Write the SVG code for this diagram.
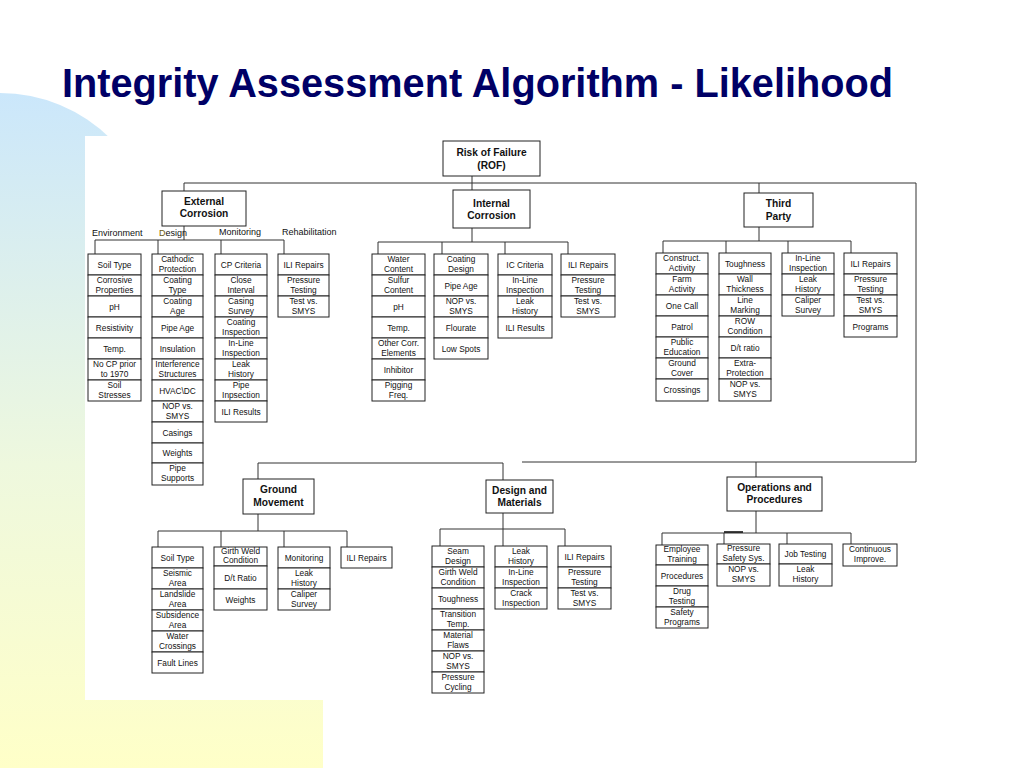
<svg xmlns="http://www.w3.org/2000/svg" width="1024" height="768" viewBox="0 0 1024 768">
<defs>
<linearGradient id="bg" gradientUnits="userSpaceOnUse" x1="0" y1="93" x2="0" y2="768">
<stop offset="0" stop-color="#cbe7fb"/>
<stop offset="0.55" stop-color="#eef8de"/>
<stop offset="1" stop-color="#ffffc8"/>
</linearGradient>
<style>
.c{fill:#fff;stroke:#222;stroke-width:1}
.hb{fill:#fff;stroke:#222;stroke-width:1}
.t{font-family:"Liberation Sans",Arial,sans-serif;font-size:8.3px;text-anchor:middle;fill:#111}
.h{font-family:"Liberation Sans",Arial,sans-serif;font-size:10.2px;font-weight:bold;text-anchor:middle;fill:#111}
.lb{font-family:"Liberation Sans",Arial,sans-serif;font-size:9px;fill:#111}
.ln{stroke:#333;stroke-width:1;fill:none}
</style>
</defs>
<rect width="1024" height="768" fill="#fff"/>
<g id="background">
<circle cx="0" cy="250" r="157" fill="url(#bg)"/>
<rect x="0" y="250" width="85" height="518" fill="url(#bg)"/>
<rect x="0" y="700" width="323" height="68" fill="url(#bg)"/>
<rect x="85" y="136" width="915" height="564" fill="#fff"/>
</g>
<text x="62" y="97" font-family="'Liberation Sans Narrow','Liberation Sans',Arial,sans-serif" font-size="40" font-weight="bold" fill="#000066" textLength="831" lengthAdjust="spacingAndGlyphs">Integrity Assessment Algorithm - Likelihood</text>

<g id="connectors">
<path class="ln" d="M472 176V190 M184 191V183H916V462H522 M759 183V193"/>
<path class="ln" d="M184 226V240 M95 254V240H284V254 M158 240V254 M221 240V254"/>
<path class="ln" d="M472 228V242 M378 254V242H568V254 M442 242V254 M505 242V254"/>
<path class="ln" d="M759 227V241 M663 253V241H851V253 M726 241V253 M788 241V253"/>
<path class="ln" d="M258 479V463H503V480"/>
<path class="ln" d="M258 514V531 M158 547V531H347V547 M221 531V547 M284 531V547"/>
<path class="ln" d="M503 513V529 M440 546V529H565V546 M503 529V546"/>
<path class="ln" d="M756 462V477 M756 511V533 M662 545V533H851V544 M724 533V544 M787 533V544"/>
<path d="M724 532H743" stroke="#111" stroke-width="1.6"/>
</g>

<g id="rof"><rect class="hb" x="443" y="141" width="97" height="35"/><text class="h" x="491.5" y="155.5">Risk of Failure</text><text class="h" x="491.5" y="168.5">(ROF)</text></g>

<g id="external-corrosion"><rect class="hb" x="162" y="191" width="84" height="35"/><text class="h" x="204" y="204.5">External</text><text class="h" x="204" y="216.5">Corrosion</text></g>
<g id="ec-labels">
<text class="lb" x="92" y="235.5">Environment</text>
<text class="lb" x="159" y="235.5"><tspan fill="#6b5a10">D</tspan>esign</text>
<text class="lb" x="219" y="235">Monitoring</text>
<text class="lb" x="282" y="235">Rehabilitation</text>
</g>
<g id="ec-env">
<rect class="c" x="88" y="254" width="53" height="21"/><text class="t" x="114.5" y="267.5">Soil Type</text>
<rect class="c" x="88" y="275" width="53" height="21"/><text class="t" x="114.5" y="282.5">Corrosive</text><text class="t" x="114.5" y="292.5">Properties</text>
<rect class="c" x="88" y="296" width="53" height="21"/><text class="t" x="114.5" y="309.5">pH</text>
<rect class="c" x="88" y="317" width="53" height="21"/><text class="t" x="114.5" y="330.5">Resistivity</text>
<rect class="c" x="88" y="338" width="53" height="21"/><text class="t" x="114.5" y="351.5">Temp.</text>
<rect class="c" x="88" y="359" width="53" height="21"/><text class="t" x="114.5" y="366.5">No CP prior</text><text class="t" x="114.5" y="376.5">to 1970</text>
<rect class="c" x="88" y="380" width="53" height="21"/><text class="t" x="114.5" y="387.5">Soil</text><text class="t" x="114.5" y="397.5">Stresses</text>
</g>
<g id="ec-design">
<rect class="c" x="152" y="254" width="51" height="21"/><text class="t" x="177.5" y="261.5">Cathodic</text><text class="t" x="177.5" y="271.5">Protection</text>
<rect class="c" x="152" y="275" width="51" height="21"/><text class="t" x="177.5" y="282.5">Coating</text><text class="t" x="177.5" y="292.5">Type</text>
<rect class="c" x="152" y="296" width="51" height="21"/><text class="t" x="177.5" y="303.5">Coating</text><text class="t" x="177.5" y="313.5">Age</text>
<rect class="c" x="152" y="317" width="51" height="21"/><text class="t" x="177.5" y="330.5">Pipe Age</text>
<rect class="c" x="152" y="338" width="51" height="21"/><text class="t" x="177.5" y="351.5">Insulation</text>
<rect class="c" x="152" y="359" width="51" height="21"/><text class="t" x="177.5" y="366.5">Interference</text><text class="t" x="177.5" y="376.5">Structures</text>
<rect class="c" x="152" y="380" width="51" height="21"/><text class="t" x="177.5" y="393.5">HVAC\DC</text>
<rect class="c" x="152" y="401" width="51" height="21"/><text class="t" x="177.5" y="408.5">NOP vs.</text><text class="t" x="177.5" y="418.5">SMYS</text>
<rect class="c" x="152" y="422" width="51" height="21"/><text class="t" x="177.5" y="435.5">Casings</text>
<rect class="c" x="152" y="443" width="51" height="20"/><text class="t" x="177.5" y="456">Weights</text>
<rect class="c" x="152" y="463" width="51" height="22"/><text class="t" x="177.5" y="471">Pipe</text><text class="t" x="177.5" y="481">Supports</text>
</g>
<g id="ec-monitoring">
<rect class="c" x="215" y="254" width="52" height="21"/><text class="t" x="241" y="267.5">CP Criteria</text>
<rect class="c" x="215" y="275" width="52" height="21"/><text class="t" x="241" y="282.5">Close</text><text class="t" x="241" y="292.5">Interval</text>
<rect class="c" x="215" y="296" width="52" height="21"/><text class="t" x="241" y="303.5">Casing</text><text class="t" x="241" y="313.5">Survey</text>
<rect class="c" x="215" y="317" width="52" height="21"/><text class="t" x="241" y="324.5">Coating</text><text class="t" x="241" y="334.5">Inspection</text>
<rect class="c" x="215" y="338" width="52" height="21"/><text class="t" x="241" y="345.5">In-Line</text><text class="t" x="241" y="355.5">Inspection</text>
<rect class="c" x="215" y="359" width="52" height="21"/><text class="t" x="241" y="366.5">Leak</text><text class="t" x="241" y="376.5">History</text>
<rect class="c" x="215" y="380" width="52" height="21"/><text class="t" x="241" y="387.5">Pipe</text><text class="t" x="241" y="397.5">Inpsection</text>
<rect class="c" x="215" y="401" width="52" height="21"/><text class="t" x="241" y="414.5">ILI Results</text>
</g>
<g id="ec-rehab">
<rect class="c" x="278" y="254" width="51" height="21"/><text class="t" x="303.5" y="267.5">ILI Repairs</text>
<rect class="c" x="278" y="275" width="51" height="21"/><text class="t" x="303.5" y="282.5">Pressure</text><text class="t" x="303.5" y="292.5">Testing</text>
<rect class="c" x="278" y="296" width="51" height="21"/><text class="t" x="303.5" y="303.5">Test vs.</text><text class="t" x="303.5" y="313.5">SMYS</text>
</g>

<g id="internal-corrosion"><rect class="hb" x="453" y="190" width="77" height="38"/><text class="h" x="491.5" y="206.5">Internal</text><text class="h" x="491.5" y="219">Corrosion</text></g>
<g id="ic-col1">
<rect class="c" x="372" y="254" width="53" height="21"/><text class="t" x="398.5" y="261.5">Water</text><text class="t" x="398.5" y="271.5">Content</text>
<rect class="c" x="372" y="275" width="53" height="21"/><text class="t" x="398.5" y="282.5">Sulfur</text><text class="t" x="398.5" y="292.5">Content</text>
<rect class="c" x="372" y="296" width="53" height="21"/><text class="t" x="398.5" y="309.5">pH</text>
<rect class="c" x="372" y="317" width="53" height="21"/><text class="t" x="398.5" y="330.5">Temp.</text>
<rect class="c" x="372" y="338" width="53" height="21"/><text class="t" x="398.5" y="345.5">Other Corr.</text><text class="t" x="398.5" y="355.5">Elements</text>
<rect class="c" x="372" y="359" width="53" height="21"/><text class="t" x="398.5" y="372.5">Inhibitor</text>
<rect class="c" x="372" y="380" width="53" height="21"/><text class="t" x="398.5" y="387.5">Pigging</text><text class="t" x="398.5" y="397.5">Freq.</text>
</g>
<g id="ic-col2">
<rect class="c" x="434" y="254" width="54" height="21"/><text class="t" x="461" y="261.5">Coating</text><text class="t" x="461" y="271.5">Design</text>
<rect class="c" x="434" y="275" width="54" height="21"/><text class="t" x="461" y="288.5">Pipe Age</text>
<rect class="c" x="434" y="296" width="54" height="21"/><text class="t" x="461" y="303.5">NOP vs.</text><text class="t" x="461" y="313.5">SMYS</text>
<rect class="c" x="434" y="317" width="54" height="21"/><text class="t" x="461" y="330.5">Flourate</text>
<rect class="c" x="434" y="338" width="54" height="21"/><text class="t" x="461" y="351.5">Low Spots</text>
</g>
<g id="ic-col3">
<rect class="c" x="498" y="254" width="54" height="21"/><text class="t" x="525" y="267.5">IC Criteria</text>
<rect class="c" x="498" y="275" width="54" height="21"/><text class="t" x="525" y="282.5">In-Line</text><text class="t" x="525" y="292.5">Inspection</text>
<rect class="c" x="498" y="296" width="54" height="21"/><text class="t" x="525" y="303.5">Leak</text><text class="t" x="525" y="313.5">History</text>
<rect class="c" x="498" y="317" width="54" height="21"/><text class="t" x="525" y="330.5">ILI Results</text>
</g>
<g id="ic-col4">
<rect class="c" x="561" y="254" width="54" height="21"/><text class="t" x="588" y="267.5">ILI Repairs</text>
<rect class="c" x="561" y="275" width="54" height="21"/><text class="t" x="588" y="282.5">Pressure</text><text class="t" x="588" y="292.5">Testing</text>
<rect class="c" x="561" y="296" width="54" height="21"/><text class="t" x="588" y="303.5">Test vs.</text><text class="t" x="588" y="313.5">SMYS</text>
</g>

<g id="third-party"><rect class="hb" x="744" y="193" width="69" height="34"/><text class="h" x="778.5" y="207">Third</text><text class="h" x="778.5" y="219.5">Party</text></g>
<g id="tp-col1">
<rect class="c" x="656" y="253" width="52" height="21"/><text class="t" x="682" y="260.5">Construct.</text><text class="t" x="682" y="270.5">Activity</text>
<rect class="c" x="656" y="274" width="52" height="21"/><text class="t" x="682" y="281.5">Farm</text><text class="t" x="682" y="291.5">Activity</text>
<rect class="c" x="656" y="295" width="52" height="21"/><text class="t" x="682" y="308.5">One Call</text>
<rect class="c" x="656" y="316" width="52" height="21"/><text class="t" x="682" y="329.5">Patrol</text>
<rect class="c" x="656" y="337" width="52" height="21"/><text class="t" x="682" y="344.5">Public</text><text class="t" x="682" y="354.5">Education</text>
<rect class="c" x="656" y="358" width="52" height="21"/><text class="t" x="682" y="365.5">Ground</text><text class="t" x="682" y="375.5">Cover</text>
<rect class="c" x="656" y="379" width="52" height="22"/><text class="t" x="682" y="393">Crossings</text>
</g>
<g id="tp-col2">
<rect class="c" x="719" y="253" width="52" height="21"/><text class="t" x="745" y="266.5">Toughness</text>
<rect class="c" x="719" y="274" width="52" height="21"/><text class="t" x="745" y="281.5">Wall</text><text class="t" x="745" y="291.5">Thickness</text>
<rect class="c" x="719" y="295" width="52" height="21"/><text class="t" x="745" y="302.5">Line</text><text class="t" x="745" y="312.5">Marking</text>
<rect class="c" x="719" y="316" width="52" height="21"/><text class="t" x="745" y="323.5">ROW</text><text class="t" x="745" y="333.5">Condition</text>
<rect class="c" x="719" y="337" width="52" height="21"/><text class="t" x="745" y="350.5">D/t ratio</text>
<rect class="c" x="719" y="358" width="52" height="21"/><text class="t" x="745" y="365.5">Extra-</text><text class="t" x="745" y="375.5">Protection</text>
<rect class="c" x="719" y="379" width="52" height="22"/><text class="t" x="745" y="386.5">NOP vs.</text><text class="t" x="745" y="396.5">SMYS</text>
</g>
<g id="tp-col3">
<rect class="c" x="782" y="253" width="52" height="21"/><text class="t" x="808" y="260.5">In-Line</text><text class="t" x="808" y="270.5">Inspection</text>
<rect class="c" x="782" y="274" width="52" height="21"/><text class="t" x="808" y="281.5">Leak</text><text class="t" x="808" y="291.5">History</text>
<rect class="c" x="782" y="295" width="52" height="21"/><text class="t" x="808" y="302.5">Caliper</text><text class="t" x="808" y="312.5">Survey</text>
</g>
<g id="tp-col4">
<rect class="c" x="844" y="253" width="53" height="21"/><text class="t" x="870.5" y="266.5">ILI Repairs</text>
<rect class="c" x="844" y="274" width="53" height="21"/><text class="t" x="870.5" y="281.5">Pressure</text><text class="t" x="870.5" y="291.5">Testing</text>
<rect class="c" x="844" y="295" width="53" height="21"/><text class="t" x="870.5" y="302.5">Test vs.</text><text class="t" x="870.5" y="312.5">SMYS</text>
<rect class="c" x="844" y="316" width="53" height="21"/><text class="t" x="870.5" y="329.5">Programs</text>
</g>

<g id="ground-movement"><rect class="hb" x="243" y="479" width="71" height="35"/><text class="h" x="278.5" y="493">Ground</text><text class="h" x="278.5" y="505.5">Movement</text></g>
<g id="gm-col1">
<rect class="c" x="152" y="547" width="51" height="21"/><text class="t" x="177.5" y="560.5">Soil Type</text>
<rect class="c" x="152" y="568" width="51" height="21"/><text class="t" x="177.5" y="575.5">Seismic</text><text class="t" x="177.5" y="585.5">Area</text>
<rect class="c" x="152" y="589" width="51" height="21"/><text class="t" x="177.5" y="596.5">Landslide</text><text class="t" x="177.5" y="606.5">Area</text>
<rect class="c" x="152" y="610" width="51" height="21"/><text class="t" x="177.5" y="617.5">Subsidence</text><text class="t" x="177.5" y="627.5">Area</text>
<rect class="c" x="152" y="631" width="51" height="21"/><text class="t" x="177.5" y="638.5">Water</text><text class="t" x="177.5" y="648.5">Crossings</text>
<rect class="c" x="152" y="652" width="51" height="21"/><text class="t" x="177.5" y="665.5">Fault Lines</text>
</g>
<g id="gm-col2">
<rect class="c" x="214" y="547" width="53" height="19"/><text class="t" x="240.5" y="553.5">Girth Weld</text><text class="t" x="240.5" y="563">Condition</text>
<rect class="c" x="214" y="566" width="53" height="23"/><text class="t" x="240.5" y="580.5">D/t Ratio</text>
<rect class="c" x="214" y="589" width="53" height="21"/><text class="t" x="240.5" y="602.5">Weights</text>
</g>
<g id="gm-col3">
<rect class="c" x="278" y="547" width="52" height="21"/><text class="t" x="304" y="560.5">Monitoring</text>
<rect class="c" x="278" y="568" width="52" height="21"/><text class="t" x="304" y="575.5">Leak</text><text class="t" x="304" y="585.5">History</text>
<rect class="c" x="278" y="589" width="52" height="21"/><text class="t" x="304" y="596.5">Caliper</text><text class="t" x="304" y="606.5">Survey</text>
</g>
<g id="gm-col4">
<rect class="c" x="341" y="547" width="51" height="21"/><text class="t" x="366.5" y="560.5">ILI Repairs</text>
</g>

<g id="design-materials"><rect class="hb" x="486" y="480" width="67" height="33"/><text class="h" x="519.5" y="494">Design and</text><text class="h" x="519.5" y="506">Materials</text></g>
<g id="dm-col1">
<rect class="c" x="432" y="546" width="52" height="21"/><text class="t" x="458" y="553.5">Seam</text><text class="t" x="458" y="563.5">Design</text>
<rect class="c" x="432" y="567" width="52" height="21"/><text class="t" x="458" y="574.5">Girth Weld</text><text class="t" x="458" y="584.5">Condition</text>
<rect class="c" x="432" y="588" width="52" height="21"/><text class="t" x="458" y="601.5">Toughness</text>
<rect class="c" x="432" y="609" width="52" height="21"/><text class="t" x="458" y="616.5">Transition</text><text class="t" x="458" y="626.5">Temp.</text>
<rect class="c" x="432" y="630" width="52" height="21"/><text class="t" x="458" y="637.5">Material</text><text class="t" x="458" y="647.5">Flaws</text>
<rect class="c" x="432" y="651" width="52" height="21"/><text class="t" x="458" y="658.5">NOP vs.</text><text class="t" x="458" y="668.5">SMYS</text>
<rect class="c" x="432" y="672" width="52" height="21"/><text class="t" x="458" y="679.5">Pressure</text><text class="t" x="458" y="689.5">Cycling</text>
</g>
<g id="dm-col2">
<rect class="c" x="495" y="546" width="52" height="21"/><text class="t" x="521" y="553.5">Leak</text><text class="t" x="521" y="563.5">History</text>
<rect class="c" x="495" y="567" width="52" height="21"/><text class="t" x="521" y="574.5">In-Line</text><text class="t" x="521" y="584.5">Inspection</text>
<rect class="c" x="495" y="588" width="52" height="21"/><text class="t" x="521" y="595.5">Crack</text><text class="t" x="521" y="605.5">Inspection</text>
</g>
<g id="dm-col3">
<rect class="c" x="558" y="546" width="53" height="21"/><text class="t" x="584.5" y="559.5">ILI Repairs</text>
<rect class="c" x="558" y="567" width="53" height="21"/><text class="t" x="584.5" y="574.5">Pressure</text><text class="t" x="584.5" y="584.5">Testing</text>
<rect class="c" x="558" y="588" width="53" height="21"/><text class="t" x="584.5" y="595.5">Test vs.</text><text class="t" x="584.5" y="605.5">SMYS</text>
</g>

<g id="operations-procedures"><rect class="hb" x="727" y="477" width="95" height="34"/><text class="h" x="774.5" y="491">Operations and</text><text class="h" x="774.5" y="503">Procedures</text></g>
<g id="op-col1">
<rect class="c" x="656" y="545" width="52" height="20"/><text class="t" x="682" y="552">Employee</text><text class="t" x="682" y="562">Training</text>
<rect class="c" x="656" y="565" width="52" height="21"/><text class="t" x="682" y="578.5">Procedures</text>
<rect class="c" x="656" y="586" width="52" height="21"/><text class="t" x="682" y="593.5">Drug</text><text class="t" x="682" y="603.5">Testing</text>
<rect class="c" x="656" y="607" width="52" height="21"/><text class="t" x="682" y="614.5">Safety</text><text class="t" x="682" y="624.5">Programs</text>
</g>
<g id="op-col2">
<rect class="c" x="717" y="544" width="53" height="20"/><text class="t" x="743.5" y="551">Pressure</text><text class="t" x="743.5" y="561">Safety Sys.</text>
<rect class="c" x="717" y="564" width="53" height="22"/><text class="t" x="743.5" y="572">NOP vs.</text><text class="t" x="743.5" y="582">SMYS</text>
</g>
<g id="op-col3">
<rect class="c" x="779" y="544" width="53" height="20"/><text class="t" x="805.5" y="557">Job Testing</text>
<rect class="c" x="779" y="564" width="53" height="22"/><text class="t" x="805.5" y="572">Leak</text><text class="t" x="805.5" y="582">History</text>
</g>
<g id="op-col4">
<rect class="c" x="843" y="544" width="54" height="22"/><text class="t" x="870" y="552">Continuous</text><text class="t" x="870" y="562">Improve.</text>
</g>
</svg>
